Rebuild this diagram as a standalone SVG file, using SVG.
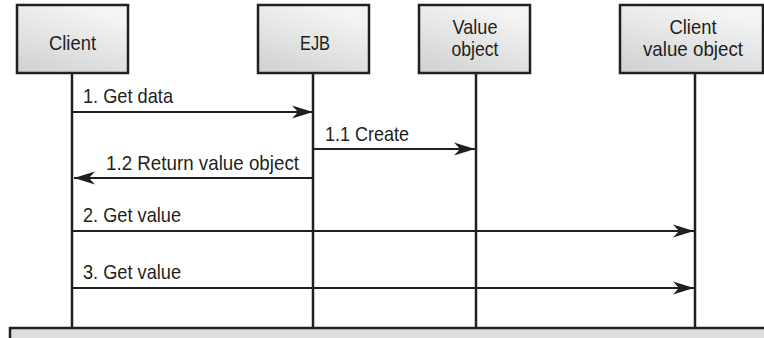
<svg xmlns="http://www.w3.org/2000/svg" width="764" height="338" viewBox="0 0 764 338">
<style>
.box{fill:url(#g);stroke:#231f20;stroke-width:2.5}
.life{stroke:#231f20;stroke-width:2.5;fill:none}
.msg{stroke:#231f20;stroke-width:2;fill:none;marker-end:url(#ah)}
text{font-family:"Liberation Sans",Arial,sans-serif;font-size:21px;fill:#231f20}
.c{text-anchor:middle}
</style>
<defs>
<linearGradient id="g" x1="0" y1="1" x2="0.5" y2="0">
<stop offset="0" stop-color="#cfd0d1"/>
<stop offset="1" stop-color="#f4f4f4"/>
</linearGradient>
<marker id="ah" markerUnits="userSpaceOnUse" markerWidth="24" markerHeight="16" viewBox="-22 -8 24 16" refX="0" refY="0" orient="auto">
<path d="M0,0 L-21,-6.5 L-15,0 L-21,6.5 Z" fill="#231f20"/>
</marker>
</defs>
<g id="lifelines">
<line class="life" x1="72" y1="73" x2="72" y2="328"/>
<line class="life" x1="313" y1="73" x2="313" y2="328"/>
<line class="life" x1="476" y1="73" x2="476" y2="328"/>
<line class="life" x1="695" y1="73" x2="695" y2="328"/>
</g>
<g id="client"><rect class="box" x="17" y="5" width="111" height="68"/><text class="c" x="72.5" y="50" textLength="47" lengthAdjust="spacingAndGlyphs">Client</text></g>
<g id="ejb"><rect class="box" x="258" y="5" width="111" height="68"/><text class="c" x="315" y="50" textLength="30" lengthAdjust="spacingAndGlyphs">EJB</text></g>
<g id="valueobject"><rect class="box" x="419" y="5" width="111" height="68"/><text class="c" x="475" y="34" textLength="45" lengthAdjust="spacingAndGlyphs">Value</text><text class="c" x="475" y="56" textLength="47" lengthAdjust="spacingAndGlyphs">object</text></g>
<g id="clientvalueobject"><rect class="box" x="620" y="5" width="143" height="68"/><text class="c" x="693" y="34" textLength="47" lengthAdjust="spacingAndGlyphs">Client</text><text class="c" x="693" y="56" textLength="100" lengthAdjust="spacingAndGlyphs">value object</text></g>
<g id="connectors">
<line class="msg" x1="72" y1="112" x2="313" y2="112"/>
<text x="83" y="103" textLength="90" lengthAdjust="spacingAndGlyphs">1. Get data</text>
<line class="msg" x1="313" y1="149" x2="475" y2="149"/>
<text x="325" y="141" textLength="84" lengthAdjust="spacingAndGlyphs">1.1 Create</text>
<line class="msg" x1="313" y1="178" x2="74" y2="178"/>
<text x="106" y="170" textLength="193" lengthAdjust="spacingAndGlyphs">1.2 Return value object</text>
<line class="msg" x1="72" y1="231" x2="694" y2="231"/>
<text x="83" y="222" textLength="98" lengthAdjust="spacingAndGlyphs">2. Get value</text>
<line class="msg" x1="72" y1="288" x2="694" y2="288"/>
<text x="83" y="279" textLength="98" lengthAdjust="spacingAndGlyphs">3. Get value</text>
</g>
<rect x="10" y="328" width="760" height="20" fill="#dcddde" stroke="#231f20" stroke-width="2.5"/>
</svg>
